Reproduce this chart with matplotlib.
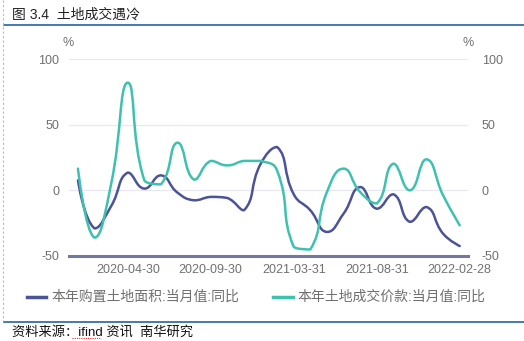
import numpy as np
import matplotlib.pyplot as plt
from matplotlib.path import Path
from matplotlib.patches import PathPatch
from matplotlib.lines import Line2D

plt.rcParams['font.family'] = ['Liberation Sans', 'Noto Sans CJK SC', 'DejaVu Sans']
plt.rcParams['axes.unicode_minus'] = False

# 月度数据（1月与2月合并公布，无1月值）
dates = ['2019-12-31', '2020-02-29', '2020-03-31', '2020-04-30', '2020-05-31',
         '2020-06-30', '2020-07-31', '2020-08-31', '2020-09-30', '2020-10-31',
         '2020-11-30', '2020-12-31', '2021-02-28', '2021-03-31', '2021-04-30',
         '2021-05-31', '2021-06-30', '2021-07-31', '2021-08-31', '2021-09-30',
         '2021-10-31', '2021-11-30', '2021-12-31', '2022-02-28']
land_area = [7.6, -29, -12, 13.5, 1.3, 11.4, -1.8, -7.6, -5, -5.8, -15.2, 20,
             33, -3, -15.2, -31.7, -17.8, 2.5, -14, -3, -24, -12.7, -33, -42.4]
land_value = [16.5, -36, 5, 82, 7.6, 4.6, 36.3, 8.1, 22.4, 19, 22.4, 22.4,
              15, -43, -45, -1.3, 16.5, -1.3, -10, 20.3, 0, 23.6, -3.8, -26.6]
tick_dates = ['2020-04-30', '2020-09-30', '2021-03-31', '2021-08-31', '2022-02-28']
y_ticks = [-50, 0, 50, 100]
label_area = '本年购置土地面积:当月值:同比'
label_value = '本年土地成交价款:当月值:同比'

c_area = '#4c5399'
c_value = '#3fc1b0'
c_text = '#707070'
c_blue = '#2463a6'


def smooth_path(xs, ys, smooth=0.5, sx=16.6, sy=1.313):
    # 贝塞尔平滑折线，控制点按相邻线段长度分配
    X = np.asarray(xs, float) * sx
    Y = np.asarray(ys, float) * sy
    n = len(X)
    cp_out = [(X[0], Y[0])]
    cp_in = [None]
    for i in range(1, n):
        if i == n - 1:
            cp_in.append((X[i], Y[i]))
            break
        vx = X[i + 1] - X[i - 1]
        vy = Y[i + 1] - Y[i - 1]
        l0 = np.hypot(X[i] - X[i - 1], Y[i] - Y[i - 1])
        l1 = np.hypot(X[i + 1] - X[i], Y[i + 1] - Y[i])
        r = l1 / (l0 + l1)
        cx1 = X[i] - vx * smooth * (1 - r)
        cy1 = Y[i] - vy * smooth * (1 - r)
        cx0 = X[i] + vx * smooth * r
        cy0 = Y[i] + vy * smooth * r
        cx1 = min(max(cx1, min(X[i - 1], X[i])), max(X[i - 1], X[i]))
        cy1 = min(max(cy1, min(Y[i - 1], Y[i])), max(Y[i - 1], Y[i]))
        cx0 = min(max(cx0, min(X[i + 1], X[i])), max(X[i + 1], X[i]))
        cy0 = min(max(cy0, min(Y[i + 1], Y[i])), max(Y[i + 1], Y[i]))
        cp_in.append((cx1, cy1))
        cp_out.append((cx0, cy0))
    verts = [(X[0], Y[0])]
    codes = [Path.MOVETO]
    for i in range(1, n):
        verts += [cp_out[i - 1], cp_in[i], (X[i], Y[i])]
        codes += [Path.CURVE4] * 3
    verts = [(vx / sx, vy / sy) for vx, vy in verts]
    return Path(verts, codes)


fig = plt.figure(figsize=(5.24, 3.41), dpi=100)
W, H = 524, 341


def fx(px):
    return px / W


def fy(py):
    return 1 - py / H


ax = fig.add_axes([fx(69), fy(256), fx(468) - fx(69), fy(59) - fy(256)])
x = np.arange(len(dates))
ax.set_xlim(-0.54, len(dates) - 1 + 0.5)
ax.set_ylim(-50, 100)

for v in y_ticks[1:]:
    ax.axhline(v, color='#e8e8f3', lw=0.9, zorder=1)
ax.axhline(-50, color='#7676a3', lw=2.2, zorder=3, clip_on=False)

for vals, col in [(land_area, c_area), (land_value, c_value)]:
    ax.add_patch(PathPatch(smooth_path(x, vals), fill=False, edgecolor=col,
                           lw=1.8, zorder=4, capstyle='round', joinstyle='round'))

for s in ax.spines.values():
    s.set_visible(False)
ax.set_yticks(y_ticks)
ax.tick_params(axis='y', length=0, labelsize=9, labelcolor=c_text, pad=7)
ax.set_xticks([dates.index(d) for d in tick_dates])
ax.set_xticklabels(tick_dates)
ax.tick_params(axis='x', length=0, labelsize=9, labelcolor=c_text, pad=6)

# 右侧刻度
sec = ax.secondary_yaxis('right')
sec.set_yticks(y_ticks)
sec.tick_params(length=0, labelsize=9, labelcolor=c_text, pad=10)
for s in sec.spines.values():
    s.set_visible(False)

fig.text(fx(68), fy(43), '%', ha='center', va='center', fontsize=9, color=c_text)
fig.text(fx(468), fy(43), '%', ha='center', va='center', fontsize=9, color=c_text)

# 标题与分隔线
fig.text(fx(12), fy(15), '图 3.4  土地成交遇冷', ha='left', va='center',
         fontsize=10, color='#222222')
fig.add_artist(Line2D([fx(4), 1], [fy(25), fy(25)], color=c_blue, lw=1.2))
fig.add_artist(Line2D([fx(4), 1], [fy(322), fy(322)], color=c_blue, lw=1.2))
fig.add_artist(Line2D([fx(3), fx(3)], [fy(0), fy(321)], color='#bbbbbb',
                      lw=0.8, ls=(0, (2, 2))))

# 图例
fig.add_artist(Line2D([fx(27), fx(46)], [fy(297), fy(297)], color=c_area, lw=2.5))
fig.text(fx(52), fy(297), label_area, ha='left', va='center', fontsize=10,
         color=c_text)
fig.add_artist(Line2D([fx(273), fx(293)], [fy(297), fy(297)], color=c_value, lw=2.5))
fig.text(fx(298), fy(297), label_value, ha='left', va='center', fontsize=10,
         color=c_text)

# 资料来源
fig.text(fx(12), fy(332), '资料来源：ifind 资讯  南华研究', ha='left', va='center',
         fontsize=9.5, color='#111111')
fig.add_artist(Line2D([fx(72), fx(101)], [fy(338), fy(338)], color='#e03030',
                      lw=0.8, ls=(0, (1, 1))))

fig.savefig('out.png', dpi=100)
